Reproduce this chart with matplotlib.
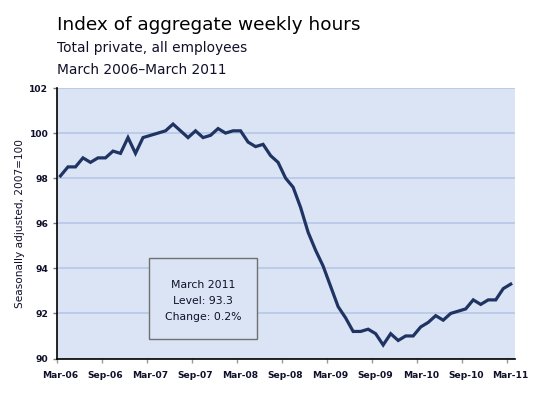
import matplotlib
matplotlib.use('Agg')
import matplotlib.pyplot as plt
from matplotlib.patches import Rectangle

# monthly index, Mar 2006 - Mar 2011 (2007=100)
hours = [98.1, 98.5, 98.5, 98.9, 98.7, 98.9, 98.9, 99.2, 99.1, 99.8,
         99.1, 99.8, 99.9, 100.0, 100.1, 100.4, 100.1, 99.8, 100.1, 99.8,
         99.9, 100.2, 100.0, 100.1, 100.1, 99.6, 99.4, 99.5, 99.0, 98.7,
         98.0, 97.6, 96.7, 95.6, 94.8, 94.1, 93.2, 92.3, 91.8, 91.2,
         91.2, 91.3, 91.1, 90.6, 91.1, 90.8, 91.0, 91.0, 91.4, 91.6,
         91.9, 91.7, 92.0, 92.1, 92.2, 92.6, 92.4, 92.6, 92.6, 93.1,
         93.3]
tick_labels = ['Mar-06', 'Sep-06', 'Mar-07', 'Sep-07', 'Mar-08', 'Sep-08',
               'Mar-09', 'Sep-09', 'Mar-10', 'Sep-10', 'Mar-11']
yticks = [90, 92, 94, 96, 98, 100, 102]
box_lines = ['March 2011', 'Level: 93.3', 'Change: 0.2%']

plt.rcParams['font.family'] = 'DejaVu Sans'
bg = '#dbe4f4'
txt = '#10102a'

fig = plt.figure(figsize=(5.36, 3.94), dpi=100)
ax = fig.add_axes([56.7 / 536, 1 - 358.5 / 394, (514.5 - 56.7) / 536, (358.5 - 88) / 394])
ax.set_facecolor(bg)

x = list(range(len(hours)))
ax.plot(x, hours, color='#1f3462', lw=2.3, solid_joinstyle='miter', zorder=3)

ax.set_xlim(-0.5, len(hours) - 0.5)
ax.set_ylim(90, 102)
ax.set_yticks(yticks)
ax.set_yticklabels([str(v) for v in yticks], fontsize=6.6, fontweight='bold', color=txt)
ax.yaxis.grid(True, color='#b8c9e8', lw=1.3)
ax.set_axisbelow(True)

# labels centred on months, ticks on month boundaries
ax.set_xticks(range(0, len(hours), 6))
ax.set_xticklabels(tick_labels, fontsize=6.6, fontweight='bold', color=txt)
ax.tick_params(axis='x', length=0, pad=9)
ax.set_xticks([i - 0.5 for i in range(0, len(hours), 6)], minor=True)
ax.tick_params(axis='x', which='minor', length=3, color='#999999', width=1)
ax.tick_params(axis='y', length=3, width=1, color='#777777', pad=3)

for s in ['top', 'right']:
    ax.spines[s].set_visible(False)
ax.spines['left'].set_linewidth(1.2)
ax.spines['bottom'].set_linewidth(1.2)

ax.set_ylabel('Seasonally adjusted, 2007=100', fontsize=7.6, color=txt, labelpad=3)

# annotation box
fig.patches.append(Rectangle((149 / 536, 1 - 339 / 394), 108 / 536, 81 / 394,
                             transform=fig.transFigure, facecolor=bg,
                             edgecolor='#707070', lw=1.0, zorder=5))
for k, line in enumerate(box_lines):
    fig.text(203 / 536, 1 - (287.5 + 16.5 * k) / 394, line, fontsize=7.8,
             ha='center', va='baseline', color=txt, zorder=6)

fig.text(57 / 536, 1 - 30 / 394, 'Index of aggregate weekly hours',
         fontsize=13.3, color='black', va='baseline')
fig.text(57 / 536, 1 - 52 / 394, 'Total private, all employees',
         fontsize=9.9, color=txt, va='baseline')
fig.text(57 / 536, 1 - 74 / 394, 'March 2006\u2013March 2011',
         fontsize=9.9, color=txt, va='baseline')

fig.savefig('out.png', dpi=100)
